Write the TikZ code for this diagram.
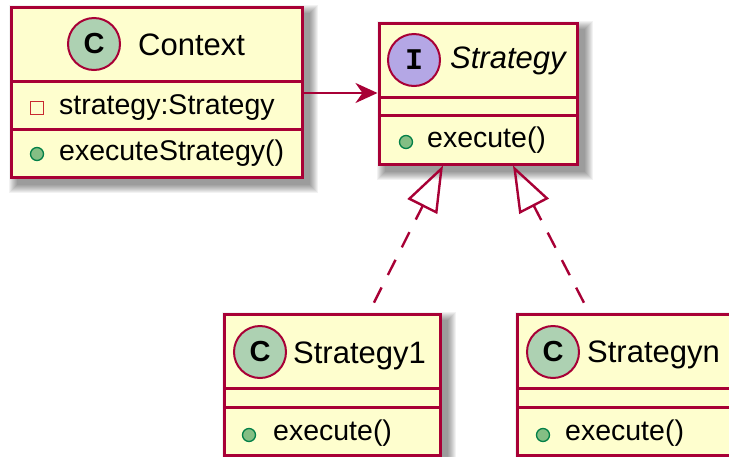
\documentclass[tikz,border=0pt]{standalone}
\usepackage{fontspec}
\setmainfont{Liberation Sans}
\newfontfamily\monofnt{Liberation Mono}
\usetikzlibrary{arrows.meta}
\pgfdeclarelayer{background}
\pgfsetlayers{background,main}

\definecolor{umlred}{HTML}{A80036}
\definecolor{umlfill}{HTML}{FEFECE}
\definecolor{cfill}{HTML}{ADD1B2}
\definecolor{ifill}{HTML}{B4A7E5}
\definecolor{pubfill}{HTML}{84BE84}
\definecolor{pubdraw}{HTML}{038048}
\definecolor{privdraw}{HTML}{C82930}

\newcommand{\umlshadow}[1]{%
  \foreach \s in {0,...,8}
    \fill[black, opacity=0.05] ([shift={(7-\s,7-\s)}]#1.north west) rectangle ([shift={(6+\s,6+\s)}]#1.south east);}

\begin{document}
\begin{tikzpicture}[x=1pt, y=-1pt,
  classbox/.style={rectangle, draw=umlred, fill=umlfill, line width=3pt, inner sep=0pt},
  sepline/.style={draw=umlred, line width=3pt},
  icon/.style={circle, draw=umlred, line width=2pt, minimum size=52pt, inner sep=0pt},
  nametext/.style={anchor=base west, inner sep=0pt, font=\fontsize{31}{36}\selectfont},
  membertext/.style={anchor=base west, inner sep=0pt, font=\fontsize{28.5}{34}\selectfont},
  pubdot/.style={circle, draw=pubdraw, fill=pubfill, line width=1.3pt, minimum size=13pt, inner sep=0pt},
  privsq/.style={rectangle, draw=privdraw, line width=1.6pt, minimum size=13pt, inner sep=0pt},
  assoc/.style={draw=umlred, line width=2.6pt, -{Stealth[length=22pt, width=20pt, inset=7pt]}},
  realize/.style={draw=umlred, line width=2.4pt, dash pattern=on 17pt off 14pt, dash phase=20pt,
    -{Triangle[open, length=46pt, width=33pt]}}]

\useasboundingbox (0,0) rectangle (729,456);
\clip (0,0) rectangle (729,456);

% class boxes
\node[classbox, minimum width=291pt, minimum height=170pt] (ctx) at (156.5,92) {};
\node[classbox, minimum width=198pt, minimum height=141pt] (str) at (478,93.5) {};
\node[classbox, minimum width=216pt, minimum height=141pt] (s1) at (332,384.5) {};
\node[classbox, minimum width=216pt, minimum height=141pt] (sn) at (625,384.5) {};

\begin{pgfonlayer}{background}
  \fill[white] (0,0) rectangle (729,456);
  \umlshadow{ctx}
  \umlshadow{str}
  \umlshadow{s1}
  \umlshadow{sn}
\end{pgfonlayer}

% Context
\draw[sepline] (11,81) -- (302,81);
\draw[sepline] (11,129) -- (302,129);
\node[icon, fill=cfill] (ctxicon) at (94,44) {\fontsize{29}{34}\selectfont\bfseries\raisebox{-2pt}{C}};
\node[nametext] (ctxname) at (138,55) {Context};
\node[privsq] (ctxattr) at (37,108) {};
\node[membertext] (ctxattrtext) at (59,114) {strategy:Strategy};
\node[pubdot] (ctxop) at (37,154) {};
\node[membertext] (ctxoptext) at (59,160) {executeStrategy()};

% Strategy
\draw[sepline] (379,97) -- (577,97);
\draw[sepline] (379,115) -- (577,115);
\node[icon, fill=ifill] (stricon) at (414,60) {\fontsize{30}{34}\selectfont\monofnt\bfseries\raisebox{-3pt}{I}};
\node[nametext] (strname) at (450,68) {\itshape Strategy};
\node[pubdot] (strop) at (406,142) {};
\node[membertext] (stroptext) at (427,147) {execute()};

% Strategy1
\draw[sepline] (224,388) -- (440,388);
\draw[sepline] (224,407) -- (440,407);
\node[icon, fill=cfill] (s1icon) at (260,352) {\fontsize{29}{34}\selectfont\bfseries\raisebox{-2pt}{C}};
\node[nametext] (s1name) at (293,363) {Strategy1};
\node[pubdot] (s1op) at (249,435) {};
\node[membertext] (s1optext) at (273,440) {execute()};

% Strategyn
\draw[sepline] (517,388) -- (733,388);
\draw[sepline] (517,407) -- (733,407);
\node[icon, fill=cfill] (snicon) at (553,352) {\fontsize{29}{34}\selectfont\bfseries\raisebox{-2pt}{C}};
\node[nametext] (snname) at (587,362) {Strategyn};
\node[pubdot] (snop) at (543,435) {};
\node[membertext] (snoptext) at (565,440) {execute()};

% relations
\draw[assoc] ([yshift=-1pt]ctx.east) -- ([yshift=-1pt]ctx.east -| str.west);
\draw[realize] ([xshift=37pt]s1.north) -- ([xshift=-35pt]str.south);
\draw[realize] ([xshift=-36pt]sn.north) -- ([xshift=35pt]str.south);

\end{tikzpicture}
\end{document}
